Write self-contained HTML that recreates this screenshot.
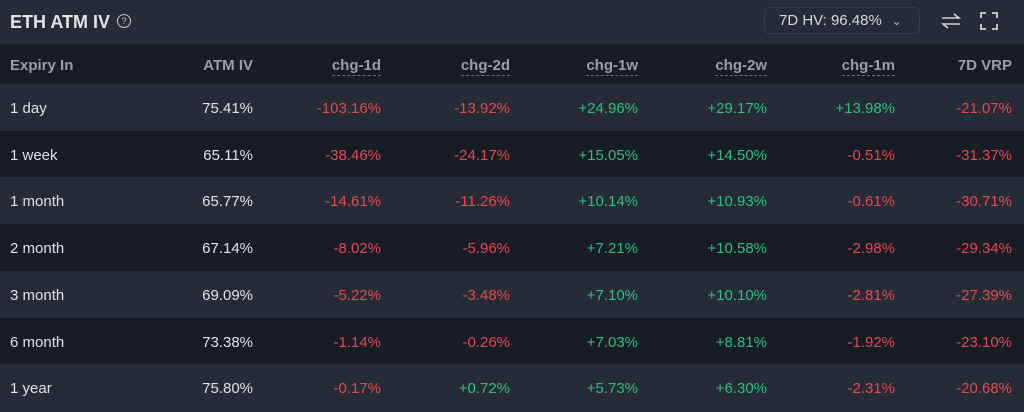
<!DOCTYPE html>
<html><head><meta charset="utf-8"><style>
body{margin:0;width:1024px;height:411px;overflow:hidden;background:#262c37;font-family:"Liberation Sans",Arial,sans-serif;}
.top{position:absolute;left:0;top:0;width:1024px;height:44px;background:#262c37;}
.title{position:absolute;left:10px;top:12px;font-size:18px;font-weight:bold;color:#e3e4e6;}
.q{position:absolute;left:117px;top:14px;width:12px;height:12px;border:1.3px solid #c8cacd;border-radius:50%;color:#c8cacd;font-size:9px;text-align:center;line-height:12px;}
.dd{position:absolute;left:764px;top:7px;width:156px;height:27px;border:1px solid #353c48;border-radius:5px;box-sizing:border-box;color:#d5d7da;font-size:15px;line-height:26px;padding-left:14px;}
.row{position:absolute;left:0;width:1024px;height:47px;}
.c{position:absolute;font-size:15px;line-height:47px;text-align:right;white-space:nowrap;}
.h .c{color:#9b9ea4;font-weight:bold;}
.u{border-bottom:1px dashed #6b7079;line-height:18px;display:inline-block;}
.w{color:#e1e2e4}.r{color:#e5484d}.g{color:#2fbf7f}
</style></head><body>
<div class="top">
<div class="title">ETH ATM IV</div><div class="q">?</div>
<div class="dd">7D HV: 96.48% <span style="font-size:11px;margin-left:6px">&#8964;</span></div>
<svg style="position:absolute;left:940px;top:11px" width="22" height="20"><g stroke="#d0d2d5" stroke-width="1.6" fill="none"><path d="M2 7H19L14 3"/><path d="M20 13H3L8 17"/></g></svg>
<svg style="position:absolute;left:980px;top:12px" width="18" height="18"><g stroke="#d0d2d5" stroke-width="1.8" fill="none"><path d="M1 6V1H6M12 1H17V6M17 12V17H12M6 17H1V12"/></g></svg>
</div>
<div class="row h" style="top:44px;height:40px;background:#171c26">
<div class="c" style="left:10px;text-align:left;line-height:44px">Expiry In</div>
<div class="c" style="right:771px;line-height:44px">ATM IV</div>
<div class="c" style="right:643px;line-height:44px"><span class="u">chg-1d</span></div>
<div class="c" style="right:514px;line-height:44px"><span class="u">chg-2d</span></div>
<div class="c" style="right:386px;line-height:44px"><span class="u">chg-1w</span></div>
<div class="c" style="right:257px;line-height:44px"><span class="u">chg-2w</span></div>
<div class="c" style="right:129px;line-height:44px"><span class="u">chg-1m</span></div>
<div class="c" style="right:12px;line-height:44px">7D VRP</div>
</div>
<div id="rows"></div>
<script>
var d=[["1 day","75.41%","-103.16%","-13.92%","+24.96%","+29.17%","+13.98%","-21.07%"],
["1 week","65.11%","-38.46%","-24.17%","+15.05%","+14.50%","-0.51%","-31.37%"],
["1 month","65.77%","-14.61%","-11.26%","+10.14%","+10.93%","-0.61%","-30.71%"],
["2 month","67.14%","-8.02%","-5.96%","+7.21%","+10.58%","-2.98%","-29.34%"],
["3 month","69.09%","-5.22%","-3.48%","+7.10%","+10.10%","-2.81%","-27.39%"],
["6 month","73.38%","-1.14%","-0.26%","+7.03%","+8.81%","-1.92%","-23.10%"],
["1 year","75.80%","-0.17%","+0.72%","+5.73%","+6.30%","-2.31%","-20.68%"]];
var rt=[771,643,514,386,257,129,12],h="";
d.forEach(function(r,i){h+='<div class="row" style="top:'+(84+i*46.7)+'px;background:'+(i%2?'#171c26':'#262c37')+'"><div class="c w" style="left:10px;text-align:left;top:1px">'+r[0]+'</div>';
for(var j=1;j<8;j++){var cl=j==1?'w':(r[j][0]=='+'?'g':'r');h+='<div class="c '+cl+'" style="top:1px;right:'+rt[j-1]+'px">'+r[j]+'</div>';}h+='</div>';});
document.getElementById('rows').innerHTML=h;
</script>
</body></html>
